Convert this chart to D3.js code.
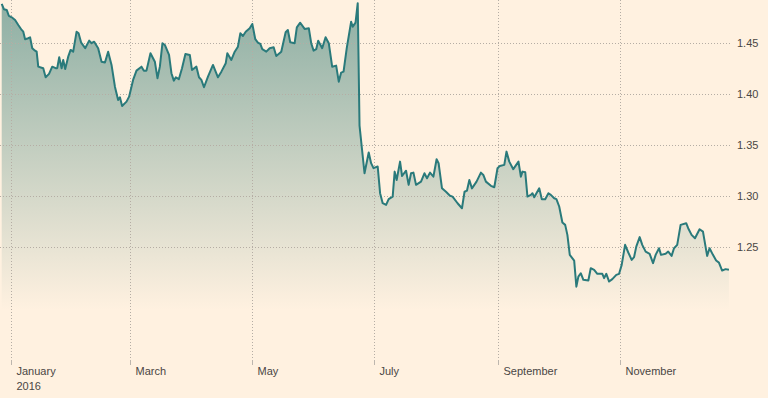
<!DOCTYPE html>
<html>
<head>
<meta charset="UTF-8">
<script src="https://d3js.org/d3.v7.min.js"></script>
<style>
    body { margin: 0; background: #fff1e0; }
    svg { display: block; }
    .grid line { stroke: #b5ada4; stroke-width: 1px; stroke-dasharray: 1,2; }
    .axis text { font-family: "Liberation Sans", Arial, sans-serif; font-size: 11px; fill: #4a4644; }
    .tick-mark { stroke: #bdb6ae; stroke-width: 1px; }
    .price { fill: none; stroke: #2a7a7b; stroke-width: 2px; stroke-linejoin: round; }
</style>
</head>
<body>
<svg id="chart" width="768" height="398"></svg>
<script>
// days since 1 Jan 2016
const days = [
    -4.4, -3.3, -1.9, -0.8, 0.6, 2.3, 3.9, 5.6, 6.4, 7.3, 8.9, 9.8, 10.9, 12.3, 13.1, 13.9,
    15.6, 16.4, 17.6, 19.3, 20.9, 22.6, 23.4, 24.4, 25.6, 26.4, 27.4, 28.9, 30.1, 31.4, 33.1,
    34.1, 35.4, 37.4, 39.4, 40.6, 41.9, 43.9, 45.6, 47.3, 48.9, 50.6, 52.3, 53.9, 54.8, 55.9,
    58.1, 59.4, 61.4, 63.1, 65.6, 66.8, 68.1, 70.1, 72.3, 73.6, 74.8, 76.1, 77.3, 79.4, 80.6,
    81.8, 82.8, 84.3, 85.9, 87.6, 89.8, 90.9, 93.1, 94.4, 95.6, 96.9, 98.9, 101.4, 103.9, 105.6,
    107.8, 108.6, 110.6, 112.3, 113.9, 115.1, 116.4, 117.8, 119.8, 121.1, 122.6, 123.9, 125.1,
    126.1, 128.1, 129.8, 131.8, 133.1, 135.6, 137.8, 138.9, 140.1, 142.3, 143.4, 145.1, 147.3,
    149.4, 150.6, 151.8, 153.1, 154.1, 156.1, 157.8, 159.4, 161.1, 163.1, 164.4, 165.6, 166.8,
    168.4, 170.6, 171.4, 172.8, 173.9, 174.8, 177.3, 179.4, 180.6, 181.8, 183.9, 185.1, 186.4,
    188.1, 189.4, 191.4, 192.4, 193.4, 195.1, 196.1, 198.1, 199.4, 200.6, 201.8, 203.1, 205.6,
    207.3, 208.6, 210.1, 211.8, 213.4, 214.4, 216.1, 218.1, 220.1, 221.4, 223.9, 226.1, 227.4,
    228.6, 229.8, 231.1, 233.4, 235.6, 236.8, 238.1, 240.6, 242.3, 243.9, 245.1, 247.3, 248.4,
    249.8, 251.8, 254.4, 255.6, 256.4, 257.8, 258.9, 260.6, 261.4, 262.3, 264.8, 266.1, 267.8,
    269.4, 270.6, 272.3, 273.4, 274.8, 276.4, 277.8, 278.9, 280.1, 282.3, 283.4, 284.4, 285.6,
    286.9, 289.4, 290.6, 292.3, 293.9, 296.4, 297.3, 298.4, 299.8, 301.4, 303.4, 304.8, 306.1,
    307.8, 309.4, 311.1, 312.3, 313.4, 315.1, 316.4, 318.1, 320.1, 321.8, 323.1, 324.8, 325.8,
    328.1, 329.4, 331.1, 332.3, 333.9, 335.6, 338.4, 339.4, 341.1, 342.8, 345.1, 346.8, 348.9,
    350.1, 351.8, 353.4, 354.8, 356.4, 358.1, 359.8
];
// GBP/USD rate
const rates = [
    1.4883, 1.4831, 1.4824, 1.4765, 1.4752, 1.4726, 1.4677, 1.4628, 1.4611, 1.4537, 1.4547, 1.4556, 1.4449, 1.4425, 1.4415, 1.4268,
    1.4258, 1.4253, 1.4164, 1.4197, 1.4268, 1.4253, 1.4253, 1.4360, 1.4253, 1.4334, 1.4246, 1.4366, 1.4432, 1.4415, 1.4611,
    1.4595, 1.4503, 1.4449, 1.4523, 1.4498, 1.4513, 1.4449, 1.4317, 1.4308, 1.4415, 1.4285, 1.4072, 1.3942, 1.3968, 1.3883,
    1.3925, 1.3974, 1.4138, 1.4229, 1.4268, 1.4229, 1.4229, 1.4400, 1.4317, 1.4155, 1.4268, 1.4498, 1.4481, 1.4383, 1.4204,
    1.4131, 1.4164, 1.4145, 1.4253, 1.4393, 1.4383, 1.4236, 1.4268, 1.4164, 1.4138, 1.4066, 1.4170, 1.4285, 1.4164, 1.4219,
    1.4302, 1.4400, 1.4334, 1.4415, 1.4464, 1.4595, 1.4569, 1.4611, 1.4645, 1.4687, 1.4537, 1.4504, 1.4491,
    1.4439, 1.4415, 1.4449, 1.4458, 1.4373, 1.4415, 1.4605, 1.4628, 1.4507, 1.4498, 1.4654, 1.4699, 1.4638,
    1.4645, 1.4498, 1.4425, 1.4439, 1.4523, 1.4449, 1.4556, 1.4498, 1.4268, 1.4278, 1.4121, 1.4210, 1.4219,
    1.4449, 1.4709, 1.4660, 1.4700, 1.4890, 1.3690, 1.3223, 1.3426, 1.3322, 1.3273, 1.3289, 1.3028, 1.2930,
    1.2913, 1.2969, 1.2994, 1.3239, 1.3157, 1.3337, 1.3196, 1.3248, 1.3109, 1.3223, 1.3229, 1.3109, 1.3141,
    1.3223, 1.3174, 1.3229, 1.3190, 1.3360, 1.3321, 1.3075, 1.3042, 1.3003, 1.2994, 1.2929, 1.2880, 1.3042,
    1.3052, 1.3157, 1.3075, 1.3141, 1.3229, 1.3206, 1.3141, 1.3100, 1.3086, 1.3272, 1.3295, 1.3305, 1.3435,
    1.3337, 1.3263, 1.3337, 1.3190, 1.3239, 1.3233, 1.2994, 1.3011, 1.3027, 1.2988, 1.3075, 1.2969, 1.2969,
    1.3027, 1.3011, 1.2978, 1.2969, 1.2897, 1.2740, 1.2717, 1.2619, 1.2423, 1.2367, 1.2111, 1.2210, 1.2243,
    1.2178, 1.2171, 1.2292, 1.2276, 1.2237, 1.2237, 1.2195, 1.2237, 1.2161, 1.2185, 1.2227, 1.2237, 1.2325,
    1.2521, 1.2446, 1.2374, 1.2401, 1.2504, 1.2597, 1.2521, 1.2455, 1.2433, 1.2342, 1.2423, 1.2488, 1.2423,
    1.2433, 1.2455, 1.2413, 1.2488, 1.2521, 1.2717, 1.2733, 1.2684, 1.2619, 1.2586, 1.2674, 1.2651, 1.2413,
    1.2488, 1.2423, 1.2367, 1.2347, 1.2269, 1.2283, 1.2276
];
const yTicks = [1.25, 1.30, 1.35, 1.40, 1.45];
const monthTicks = ["2016-01-01", "2016-03-01", "2016-05-01", "2016-07-01", "2016-09-01", "2016-11-01"];
const monthLabels = ["January", "March", "May", "July", "September", "November"];

const svg = d3.select("svg#chart");
const start = new Date(Date.UTC(2016, 0, 1));
const data = days.map((d, i) => ({date: new Date(start.getTime() + d * 864e5), value: rates[i]}));

const x = d3.scaleUtc()
    .domain([start, new Date(Date.UTC(2016, 10, 1))])
    .range([10.5, 619.5]);
const y = d3.scaleLinear()
    .domain([1.25, 1.45])
    .range([247, 43]);
const plotRight = 730;
const baseY = 360;

const defs = svg.append("defs");
const grad = defs.append("linearGradient")
    .attr("id", "fade")
    .attr("gradientUnits", "userSpaceOnUse")
    .attr("x1", 0).attr("x2", 0).attr("y1", 0).attr("y2", 310);
grad.append("stop").attr("offset", 0).attr("stop-color", "#8caea3");
grad.append("stop").attr("offset", 1).attr("stop-color", "#fff1e0");

// area
const area = d3.area()
    .x(d => x(d.date))
    .y0(baseY)
    .y1(d => y(d.value));
svg.append("path")
    .datum(data)
    .attr("fill", "url(#fade)")
    .attr("d", area);

// grid
const grid = svg.append("g").attr("class", "grid");
grid.selectAll(".h")
    .data(yTicks)
    .enter()
    .append("line")
    .attr("class", "h")
    .attr("x1", 0).attr("x2", plotRight)
    .attr("y1", d => Math.round(y(d)) + 0.5)
    .attr("y2", d => Math.round(y(d)) + 0.5);
const monthDates = monthTicks.map(s => new Date(s + "T00:00:00Z"));
grid.selectAll(".v")
    .data(monthDates)
    .enter()
    .append("line")
    .attr("class", "v")
    .attr("x1", d => Math.round(x(d)) + 0.5)
    .attr("x2", d => Math.round(x(d)) + 0.5)
    .attr("y1", 0).attr("y2", baseY);

// line
const line = d3.line()
    .x(d => x(d.date))
    .y(d => y(d.value));
svg.append("path")
    .datum(data)
    .attr("class", "price")
    .attr("d", line);

// x axis
const xAxis = svg.append("g").attr("class", "axis");
const xt = xAxis.selectAll("g")
    .data(monthDates)
    .enter()
    .append("g")
    .attr("transform", d => "translate(" + (Math.round(x(d)) + 0.5) + ",0)");
xt.append("line")
    .attr("class", "tick-mark")
    .attr("y1", baseY).attr("y2", baseY + 5);
xt.append("text")
    .attr("x", 5)
    .attr("y", 375)
    .text((d, i) => monthLabels[i]);
xAxis.append("text")
    .attr("x", Math.round(x(monthDates[0])) + 5.5)
    .attr("y", 389.5)
    .text("2016");

// y axis
const yAxis = svg.append("g").attr("class", "axis");
yAxis.selectAll("text")
    .data(yTicks)
    .enter()
    .append("text")
    .attr("x", 737)
    .attr("y", d => y(d))
    .attr("dy", "0.34em")
    .text(d => d3.format(".2f")(d));
</script>
</body>
</html>
